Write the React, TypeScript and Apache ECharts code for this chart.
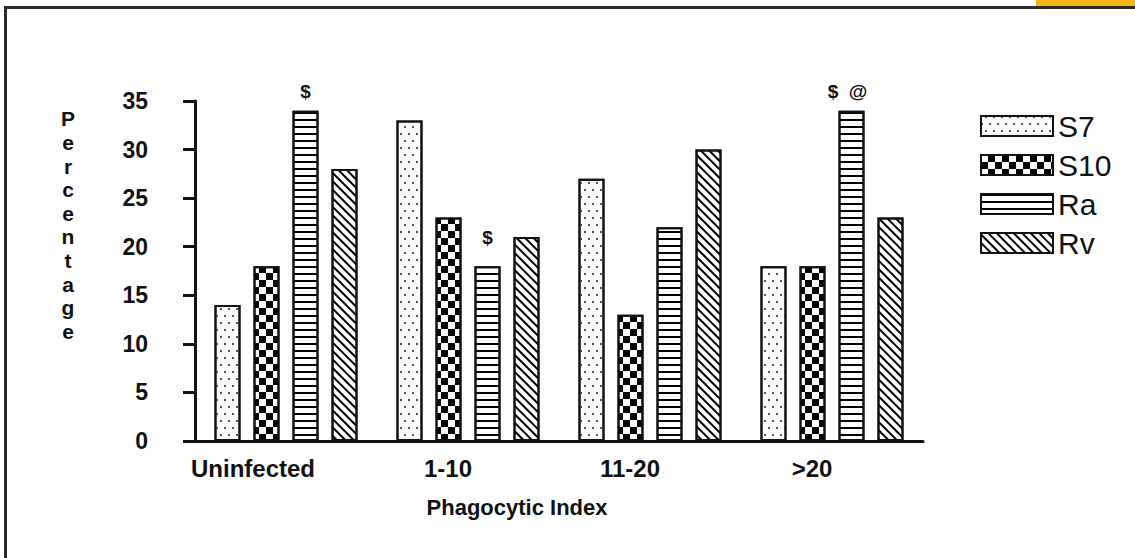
import React, { useEffect, useRef } from 'react';
import * as echarts from 'echarts';

const categories = ['Uninfected', '1-10', '11-20', '>20'];
const seriesNames = ['S7', 'S10', 'Ra', 'Rv'];
const s7Values = [14, 33, 27, 18];
const s10Values = [18, 23, 13, 18];
const raValues = [34, 18, 22, 34];
const rvValues = [28, 21, 30, 23];
const raMarks = ['$', '$', '', '$  @'];
const markDistance = [10, 19, 0, 10];
const yAxisTitle = 'Percentage';
const xAxisTitle = 'Phagocytic Index';

const FONT = '"Liberation Sans", Arial, Helvetica, sans-serif';

const decals: any[] = [
  { symbol: 'rect', symbolSize: 1, color: '#555', backgroundColor: '#fff', dashArrayX: [[2, 6], [0, 4, 2, 2]], dashArrayY: [2, 5], rotation: 0 },
  { symbol: 'rect', symbolSize: 1, color: '#000', backgroundColor: '#fff', dashArrayX: [[7, 7], [0, 7, 7, 0]], dashArrayY: [7, 0], rotation: 0 },
  { symbol: 'rect', symbolSize: 1, color: '#000', backgroundColor: '#fff', dashArrayX: [1, 0], dashArrayY: [2, 5], rotation: 0 },
  { symbol: 'rect', symbolSize: 1, color: '#000', backgroundColor: '#fff', dashArrayX: [1, 0], dashArrayY: [2, 4], rotation: Math.PI / 4 },
];

export default function App() {
  const ref = useRef<HTMLDivElement>(null);

  useEffect(() => {
    document.body.style.margin = '0';
    if (!ref.current) return;
    const chart = echarts.init(ref.current, null, { renderer: 'svg' });

    const values = [s7Values, s10Values, raValues, rvValues];

    const series = seriesNames.map((name, i) => ({
      type: 'bar',
      name,
      barWidth: 26,
      barGap: '50%',
      itemStyle: { color: '#fff', borderColor: '#111', borderWidth: 2, decal: decals[i] },
      data: values[i].map((v, j) => {
        if (name === 'Ra' && raMarks[j]) {
          return {
            value: v,
            label: {
              show: true,
              position: 'top',
              distance: markDistance[j],
              offset: raMarks[j].length > 1 ? [-4, 0] : [0, 0],
              formatter: raMarks[j],
              fontFamily: FONT,
              fontWeight: 'bold',
              fontSize: 19,
              color: '#111',
            },
          };
        }
        return { value: v };
      }),
    }));

    chart.setOption({
      animation: false,
      backgroundColor: '#fff',
      grid: { left: 195, right: 212, top: 101, bottom: 117, containLabel: false },
      xAxis: {
        type: 'category',
        data: categories,
        axisLine: { lineStyle: { color: '#111', width: 3 } },
        axisTick: { alignWithLabel: true, length: 8, lineStyle: { color: '#111', width: 3 } },
        axisLabel: {
          margin: 15,
          formatter: (v: string) => (v === 'Uninfected' ? `{u|${v}}` : `{a|${v}}`),
          rich: {
            u: { fontFamily: FONT, fontWeight: 'bold', fontSize: 24, color: '#111', padding: [0, 66, 0, 0] },
            a: { fontFamily: FONT, fontWeight: 'bold', fontSize: 24, color: '#111', padding: [0, 40, 0, 0] },
          },
        },
        splitLine: { show: false },
      },
      yAxis: {
        type: 'value',
        min: 0,
        max: 35,
        interval: 5,
        axisLine: { show: true, lineStyle: { color: '#111', width: 3 } },
        axisTick: { show: true, length: 12, lineStyle: { color: '#111', width: 3 } },
        axisLabel: { margin: 47, fontFamily: FONT, fontWeight: 'bold', fontSize: 23, color: '#111' },
        splitLine: { show: false },
      },
      legend: {
        orient: 'vertical',
        left: 975,
        top: 106,
        itemWidth: 72,
        itemHeight: 20,
        itemGap: 9,
        icon: 'rect',
        data: seriesNames,
        itemStyle: { borderColor: '#111', borderWidth: 2 },
        textStyle: { fontFamily: FONT, fontSize: 30, color: '#111' },
      },
      graphic: [
        { type: 'rect', shape: { x: 1036, y: 0, width: 100, height: 6 }, style: { fill: '#F9B517' } },
        { type: 'line', shape: { x1: 4, y1: 7.5, x2: 1135, y2: 7.5 }, style: { stroke: '#2a2a2a', lineWidth: 3 } },
        { type: 'line', shape: { x1: 5.5, y1: 6, x2: 5.5, y2: 558 }, style: { stroke: '#2a2a2a', lineWidth: 3 } },
        {
          type: 'text',
          x: 68,
          y: 107,
          style: {
            text: yAxisTitle.split('').join('\n'),
            fontFamily: FONT,
            fontWeight: 'bold',
            fontSize: 21,
            lineHeight: 23.6,
            fill: '#111',
            align: 'center',
            verticalAlign: 'top',
          },
        },
        {
          type: 'text',
          x: 517,
          y: 507,
          style: {
            text: xAxisTitle,
            fontFamily: FONT,
            fontWeight: 'bold',
            fontSize: 22,
            fill: '#111',
            align: 'center',
            verticalAlign: 'middle',
          },
        },
      ],
      series,
    });

    return () => chart.dispose();
  }, []);

  return <div ref={ref} style={{ width: 1135, height: 558 }} />;
}
